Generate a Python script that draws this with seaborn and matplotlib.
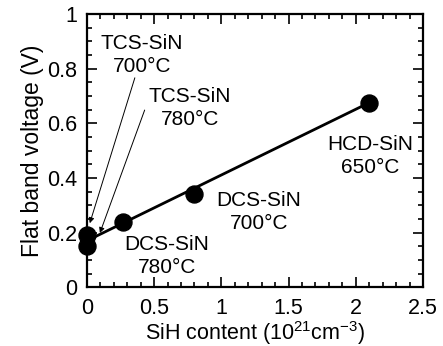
import matplotlib
matplotlib.use("Agg")
import matplotlib.pyplot as plt
import seaborn as sns
import pandas as pd
from matplotlib.ticker import MultipleLocator

# Data
sih_content = [0.0, 0.0, 0.27, 0.80, 2.10]
flat_band = [0.19, 0.15, 0.24, 0.34, 0.675]
fit_x = [0.03, 2.10]
fit_y = [0.177, 0.675]

labels = ["TCS-SiN\n700°C", "TCS-SiN\n780°C", "DCS-SiN\n780°C", "DCS-SiN\n700°C", "HCD-SiN\n650°C"]
label_pos = [(0.41, 0.85), (0.765, 0.655), (0.595, 0.114), (1.28, 0.275), (2.11, 0.48)]
arrow_from = [(0.357, 0.766), (0.43, 0.648)]
arrow_to = [(0.022, 0.234), (0.097, 0.198)]

xticks = [0, 0.5, 1, 1.5, 2, 2.5]
xticklabels = ["0", "0.5", "1", "1.5", "2", "2.5"]
yticks = [0, 0.2, 0.4, 0.6, 0.8, 1.0]
yticklabels = ["0", "0.2", "0.4", "0.6", "0.8", "1"]

sns.set_style("ticks", {"axes.edgecolor": "black", "xtick.color": "black",
                        "ytick.color": "black", "text.color": "black",
                        "axes.labelcolor": "black"})
plt.rcParams['font.family'] = ['Liberation Sans', 'DejaVu Sans']
plt.rcParams['mathtext.fontset'] = 'custom'
plt.rcParams['mathtext.rm'] = 'Liberation Sans'

fig = plt.figure(figsize=(4.43, 3.46), dpi=100)
ax = fig.add_axes([0.196, 0.17, 0.759, 0.79])

df = pd.DataFrame({"x": sih_content, "y": flat_band})
fit = pd.DataFrame({"x": fit_x, "y": fit_y})
sns.lineplot(data=fit, x="x", y="y", ax=ax, color="black", linewidth=2.0, zorder=2)
sns.scatterplot(data=df, x="x", y="y", ax=ax, color="black", s=150, edgecolor="black", zorder=3, clip_on=False)

for txt, (tx, ty) in zip(labels, label_pos):
    ax.text(tx, ty, txt, ha="center", va="center", fontsize=15, linespacing=1.3, color="black")

for (fx, fy), (tx, ty) in zip(arrow_from, arrow_to):
    ax.annotate("", xy=(tx, ty), xytext=(fx, fy),
                arrowprops=dict(arrowstyle="-|>", color="black", lw=0.7,
                                mutation_scale=8, shrinkA=0, shrinkB=0))

ax.set_xlim(0, 2.5)
ax.set_ylim(0, 1.0)
ax.set_xticks(xticks)
ax.set_xticklabels(xticklabels)
ax.set_yticks(yticks)
ax.set_yticklabels(yticklabels)
ax.xaxis.set_minor_locator(MultipleLocator(0.1))
ax.yaxis.set_minor_locator(MultipleLocator(0.05))
ax.tick_params(which="both", direction="in", top=True, right=True, width=1.2,
               labelsize=15.5, color="black", labelcolor="black")
ax.tick_params(axis="x", pad=8)
ax.tick_params(axis="y", pad=7)
ax.tick_params(which="major", length=7)
ax.tick_params(which="minor", length=3.5)
for s in ax.spines.values():
    s.set_linewidth(1.6)
    s.set_color("black")
    s.set_visible(True)

ax.set_xlabel("SiH content (10$^{21}$cm$^{-3}$)", fontsize=15.5, labelpad=0, color="black")
ax.set_ylabel("Flat band voltage (V)", fontsize=16.5, labelpad=2, color="black")

fig.savefig("out.png", dpi=100)
